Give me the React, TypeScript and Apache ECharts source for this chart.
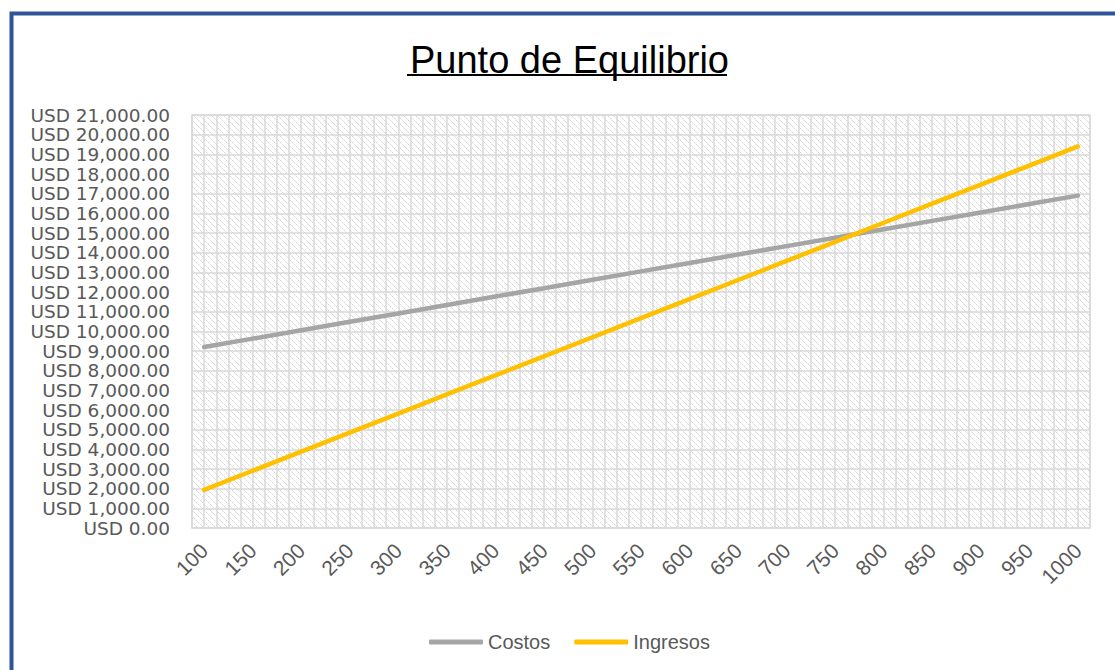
import React, { useEffect, useRef } from "react";
import * as echarts from "echarts";

const quantities = [100, 150, 200, 250, 300, 350, 400, 450, 500, 550, 600, 650, 700, 750, 800, 850, 900, 950, 1000];
const costos = [9200, 9628, 10056, 10483, 10911, 11339, 11767, 12194, 12622, 13050, 13478, 13906, 14333, 14761, 15189, 15617, 16044, 16472, 16900];
const ingresos = [1940, 2910, 3880, 4850, 5820, 6790, 7760, 8730, 9700, 10670, 11640, 12610, 13580, 14550, 15520, 16490, 17460, 18430, 19400];
const seriesNames = ["Costos", "Ingresos"];
const titleText = "Punto de Equilibrio";

const FONT = "'Liberation Sans', Arial, sans-serif";
const YFONT = "'DejaVu Sans', 'Liberation Sans', sans-serif";

function makePattern() {
  const c = document.createElement("canvas");
  c.width = 6;
  c.height = 6;
  const ctx = c.getContext("2d")!;
  ctx.fillStyle = "#ffffff";
  ctx.fillRect(0, 0, 6, 6);
  ctx.fillStyle = "#d6d6d6";
  for (let i = 0; i < 6; i++) {
    if (i % 2 === 0) ctx.fillRect(i, i, 1, 1);
  }
  ctx.fillStyle = "#e6e6e6";
  for (let i = 0; i < 6; i++) {
    if (i % 2 === 1) ctx.fillRect(i, i, 1, 1);
  }
  return { image: c.toDataURL(), repeat: "repeat", imageWidth: 6, imageHeight: 6 } as any;
}

export default function App() {
  const ref = useRef<HTMLDivElement>(null);
  useEffect(() => {
    if (!ref.current) return;
    const chart = echarts.init(ref.current, undefined, { renderer: "svg" });
    const fmt = (v: number) =>
      "USD " + v.toLocaleString("en-US", { minimumFractionDigits: 2, maximumFractionDigits: 2 });
    chart.setOption({
      animation: false,
      backgroundColor: "#ffffff",
      title: {
        text: titleText,
        left: 405,
        top: 36,
        textStyle: { fontFamily: FONT, fontSize: 38, fontWeight: "normal", color: "#000000" },
      },
      graphic: [
        {
          type: "rect",
          left: 9,
          top: 11,
          shape: { width: 1300, height: 900 },
          style: { fill: "none", stroke: "#2F5597", lineWidth: 4 },
          silent: true,
        },
        {
          type: "rect",
          left: 407,
          top: 74,
          shape: { width: 320, height: 2 },
          style: { fill: "#000000" },
          silent: true,
        },
      ],
      legend: {
        data: seriesNames,
        left: 424,
        top: 627,
        itemWidth: 54,
        itemHeight: 5,
        itemGap: 24,
        icon: "roundRect",
        textStyle: { fontFamily: FONT, fontSize: 20, color: "#595959" },
      },
      grid: {
        left: 192,
        right: 25,
        top: 115,
        bottom: 142,
        show: true,
        backgroundColor: makePattern(),
        borderColor: "#D9D9D9",
        borderWidth: 1.5,
      },
      xAxis: {
        type: "value",
        min: 87.5,
        max: 1012.5,
        interval: 12.5,
        axisLine: { show: false },
        axisTick: { show: false },
        splitLine: { show: true, lineStyle: { color: "#D9D9D9", width: 1.5 } },
        axisLabel: {
          rotate: 45,
          margin: 19,
          fontFamily: FONT,
          fontSize: 21,
          color: "#595959",
          showMinLabel: true,
          showMaxLabel: true,
          formatter: (v: number) => (quantities.indexOf(v) >= 0 ? String(v) : ""),
        },
      },
      yAxis: {
        type: "value",
        min: 0,
        max: 21000,
        interval: 1000,
        axisLine: { show: false },
        axisTick: { show: false },
        splitLine: { show: true, lineStyle: { color: "#D9D9D9", width: 1.5 } },
        axisLabel: {
          margin: 22,
          fontFamily: YFONT,
          fontSize: 18.5,
          lineHeight: 19,
          color: "#595959",
          showMinLabel: true,
          showMaxLabel: true,
          hideOverlap: false,
          formatter: fmt,
        },
      },
      series: [
        {
          name: seriesNames[0],
          type: "line",
          data: quantities.map((q, i) => [q, costos[i]]),
          showSymbol: false,
          lineStyle: { color: "#A5A5A5", width: 4.5, cap: "round" },
          itemStyle: { color: "#A5A5A5" },
        },
        {
          name: seriesNames[1],
          type: "line",
          data: quantities.map((q, i) => [q, ingresos[i]]),
          showSymbol: false,
          lineStyle: { color: "#FFC000", width: 4.5, cap: "round" },
          itemStyle: { color: "#FFC000" },
        },
      ],
    });
    return () => chart.dispose();
  }, []);
  return (
    <div
      ref={ref}
      style={{ position: "absolute", left: 0, top: 0, width: 1115, height: 670 }}
    />
  );
}
